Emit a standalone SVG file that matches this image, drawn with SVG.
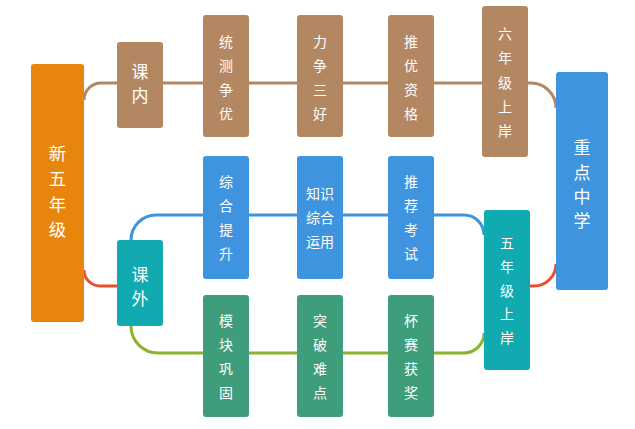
<svg xmlns="http://www.w3.org/2000/svg" width="635" height="429" viewBox="0 0 635 429">
<style>
text{font-family:"Noto Sans CJK SC","Microsoft YaHei",sans-serif;fill:#fff;text-anchor:middle;dominant-baseline:central}
.s{font-size:14px}
.m{font-size:17px}
.l{font-size:17.5px}
.c{fill:none;stroke-width:3}
.brown{fill:#b48763}
.blue{fill:#3e94de}
.green{fill:#3e9e7b}
.teal{fill:#10aab0}
.orange{fill:#e8850c}
</style>
<rect width="635" height="429" fill="#fff"/>
<g id="connectors">
<path class="c" stroke="#b48763" d="M84,100 A17,17 0 0 1 101,83 L531,83 A25,25 0 0 1 556,108"/>
<path class="c" stroke="#e8502a" d="M84,270 A16,16 0 0 0 100,286 L117,286"/>
<path class="c" stroke="#e8502a" d="M530,286 L534,286 A22,22 0 0 0 556,264"/>
<path class="c" stroke="#3e94de" d="M131,240 A25,25 0 0 1 156,215 L464,215 A20,20 0 0 1 484,235"/>
<path class="c" stroke="#8ab42e" d="M131,326 A27,27 0 0 0 158,353 L464,353 A20,20 0 0 0 484,333"/>
</g>
<g id="n-xinwunianji"><rect class="orange" x="31" y="64" width="53" height="258" rx="3"/>
<text class="l" x="57.5" y="152">新</text><text class="l" x="57.5" y="177.5">五</text><text class="l" x="57.5" y="203">年</text><text class="l" x="57.5" y="228.5">级</text></g>
<g id="n-kenei"><rect class="brown" x="117" y="42" width="46" height="86" rx="3"/>
<text class="m" x="140" y="70">课</text><text class="m" x="140" y="94">内</text></g>
<g id="n-kewai"><rect class="teal" x="117" y="240" width="46" height="86" rx="3"/>
<text class="m" x="140" y="273">课</text><text class="m" x="140" y="297">外</text></g>
<g id="n-tongce"><rect class="brown" x="203" y="15" width="46" height="122" rx="3"/>
<text class="s" x="226" y="41">统</text><text class="s" x="226" y="65">测</text><text class="s" x="226" y="89">争</text><text class="s" x="226" y="113">优</text></g>
<g id="n-lizheng"><rect class="brown" x="297" y="15" width="46" height="122" rx="3"/>
<text class="s" x="320" y="41">力</text><text class="s" x="320" y="65">争</text><text class="s" x="320" y="89">三</text><text class="s" x="320" y="113">好</text></g>
<g id="n-tuiyou"><rect class="brown" x="388" y="15" width="46" height="122" rx="3"/>
<text class="s" x="411" y="41">推</text><text class="s" x="411" y="65">优</text><text class="s" x="411" y="89">资</text><text class="s" x="411" y="113">格</text></g>
<g id="n-liunianji"><rect class="brown" x="482" y="6" width="46" height="151" rx="3"/>
<text class="s" x="505" y="33">六</text><text class="s" x="505" y="57">年</text><text class="s" x="505" y="82">级</text><text class="s" x="505" y="106">上</text><text class="s" x="505" y="130">岸</text></g>
<g id="n-zonghe"><rect class="blue" x="203" y="156" width="46" height="123" rx="3"/>
<text class="s" x="226" y="181">综</text><text class="s" x="226" y="205">合</text><text class="s" x="226" y="229">提</text><text class="s" x="226" y="253">升</text></g>
<g id="n-zhishi"><rect class="blue" x="297" y="156" width="46" height="123" rx="3"/>
<text class="s" x="320" y="193">知识</text><text class="s" x="320" y="217">综合</text><text class="s" x="320" y="241">运用</text></g>
<g id="n-tuijian"><rect class="blue" x="388" y="156" width="46" height="123" rx="3"/>
<text class="s" x="411" y="181">推</text><text class="s" x="411" y="205">荐</text><text class="s" x="411" y="229">考</text><text class="s" x="411" y="253">试</text></g>
<g id="n-mokuai"><rect class="green" x="203" y="295" width="46" height="122" rx="3"/>
<text class="s" x="226" y="320">模</text><text class="s" x="226" y="344">块</text><text class="s" x="226" y="368">巩</text><text class="s" x="226" y="392">固</text></g>
<g id="n-tupo"><rect class="green" x="297" y="295" width="46" height="122" rx="3"/>
<text class="s" x="320" y="320">突</text><text class="s" x="320" y="344">破</text><text class="s" x="320" y="368">难</text><text class="s" x="320" y="392">点</text></g>
<g id="n-beisai"><rect class="green" x="388" y="295" width="46" height="122" rx="3"/>
<text class="s" x="411" y="320">杯</text><text class="s" x="411" y="344">赛</text><text class="s" x="411" y="368">获</text><text class="s" x="411" y="392">奖</text></g>
<g id="n-wunianji"><rect class="teal" x="484" y="210" width="46" height="160" rx="3"/>
<text class="s" x="507" y="242">五</text><text class="s" x="507" y="266">年</text><text class="s" x="507" y="290">级</text><text class="s" x="507" y="313">上</text><text class="s" x="507" y="337">岸</text></g>
<g id="n-zhongdian"><rect class="blue" x="556" y="72" width="52" height="218" rx="3"/>
<text class="m" x="582" y="146">重</text><text class="m" x="582" y="171">点</text><text class="m" x="582" y="195">中</text><text class="m" x="582" y="219">学</text></g>
</svg>
